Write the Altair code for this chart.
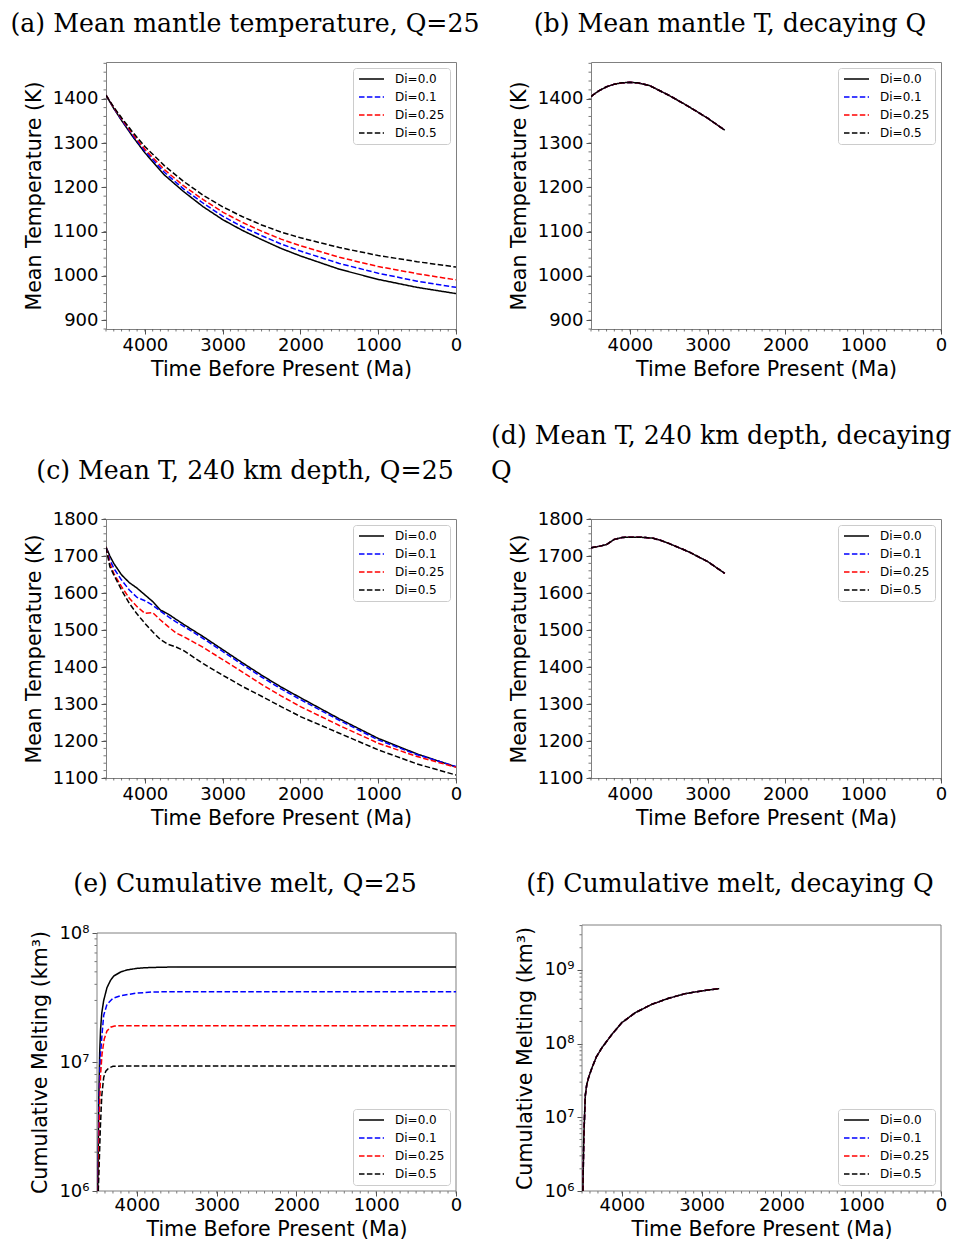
import altair as alt
import pandas as pd

SERIES = ["Di=0.0", "Di=0.1", "Di=0.25", "Di=0.5"]
COLORS = ["#000000", "#0000ff", "#ff0000", "#000000"]
DASHES = [[1, 0], [5.5, 2.4], [5.5, 2.4], [5.5, 2.4]]

# (a) Mean mantle temperature, Q=25
A_T = [4500, 4400, 4300, 4150, 4000, 3750, 3500, 3250, 3000, 2750, 2500, 2250, 2000, 1500, 1000, 500, 0]
A_00 = [1408, 1378, 1351, 1313, 1278, 1228, 1190, 1156, 1127, 1103, 1082, 1062, 1045, 1015, 992, 974, 960]
A_01 = [1408, 1379, 1353, 1316, 1282, 1234, 1196, 1164, 1135, 1111, 1091, 1072, 1056, 1028, 1006, 988, 974]
A_025 = [1408, 1380, 1355, 1319, 1286, 1240, 1203, 1172, 1144, 1121, 1101, 1083, 1068, 1042, 1021, 1005, 991]
A_05 = [1408, 1381, 1357, 1323, 1292, 1249, 1213, 1182, 1156, 1134, 1115, 1099, 1086, 1064, 1046, 1032, 1020]

# (b) Mean mantle T, decaying Q (all Di curves coincide)
B_T = [4500, 4400, 4300, 4200, 4100, 4000, 3900, 3750, 3500, 3250, 3000, 2780]
B_V = [1405, 1418, 1427, 1433, 1436, 1437, 1436, 1430, 1408, 1383, 1356, 1329]

# (c) Mean T, 240 km depth, Q=25
C_T = [4500, 4450, 4400, 4300, 4200, 4100, 4000, 3900, 3800, 3700, 3600, 3500, 3250, 3000, 2750, 2500, 2250, 2000, 1500, 1000, 500, 0]
C_00 = [1725, 1700, 1680, 1649, 1628, 1613, 1595, 1577, 1554, 1543, 1529, 1515, 1482, 1447, 1412, 1378, 1346, 1317, 1260, 1207, 1165, 1130]
C_01 = [1723, 1689, 1667, 1635, 1608, 1588, 1579, 1567, 1551, 1536, 1522, 1510, 1477, 1442, 1407, 1373, 1341, 1312, 1256, 1203, 1163, 1131]
C_025 = [1723, 1680, 1653, 1617, 1586, 1563, 1545, 1547, 1527, 1509, 1492, 1482, 1453, 1420, 1387, 1353, 1322, 1293, 1242, 1194, 1158, 1129]
C_05 = [1723, 1671, 1649, 1608, 1572, 1543, 1518, 1495, 1474, 1461, 1454, 1444, 1409, 1378, 1348, 1321, 1293, 1266, 1221, 1176, 1138, 1108]

# (d) Mean T, 240 km depth, decaying Q (all Di curves coincide)
D_T = [4500, 4400, 4300, 4250, 4200, 4100, 4000, 3900, 3800, 3700, 3600, 3500, 3250, 3000, 2780]
D_V = [1722, 1726, 1731, 1738, 1745, 1750, 1751, 1751, 1750, 1748, 1742, 1734, 1712, 1685, 1653]

# (e) Cumulative melt, Q=25
E_T00 = [4490, 4478, 4466, 4455, 4440, 4416, 4375, 4330, 4290, 4200, 4124, 4000, 3900, 3700, 3500, 0]
E_00 = [1e6, 5e6, 1.2e7, 1.8e7, 2.4e7, 3.0e7, 3.77e7, 4.3e7, 4.64e7, 5.0e7, 5.17e7, 5.32e7, 5.38e7, 5.43e7, 5.45e7, 5.45e7]
E_T01 = [4488, 4475, 4460, 4437, 4416, 4375, 4300, 4200, 4000, 3800, 3500, 0]
E_01 = [1e6, 4.5e6, 1.05e7, 1.64e7, 2.3e7, 2.8e7, 3.12e7, 3.27e7, 3.42e7, 3.49e7, 3.51e7, 3.51e7]
E_T025 = [4486, 4470, 4455, 4437, 4410, 4375, 4330, 4280, 4200, 0]
E_025 = [1e6, 4e6, 8e6, 1.15e7, 1.5e7, 1.74e7, 1.86e7, 1.9e7, 1.91e7, 1.91e7]
E_T05 = [4484, 4470, 4458, 4440, 4416, 4390, 4350, 4300, 4200, 0]
E_05 = [1e6, 1.8e6, 3.1e6, 5.5e6, 7.6e6, 8.5e6, 9.0e6, 9.25e6, 9.3e6, 9.3e6]

# (f) Cumulative melt, decaying Q (all Di curves coincide)
F_T = [4489, 4478, 4466, 4458, 4440, 4416, 4375, 4320, 4250, 4124, 4000, 3832, 3623, 3415, 3206, 2997, 2780]
F_V = [1e6, 5e6, 1.2e7, 2.0e7, 2.8e7, 3.5e7, 4.7e7, 6.6e7, 8.8e7, 1.34e8, 1.93e8, 2.63e8, 3.42e8, 4.12e8, 4.77e8, 5.19e8, 5.58e8]

X_TICKS = [4000, 3000, 2000, 1000, 0]
X_MINOR = list(range(4500, -1, -100))
TA_TICKS = [900, 1000, 1100, 1200, 1300, 1400]
TA_MINOR = list(range(880, 1481, 20))
TC_TICKS = [1100, 1200, 1300, 1400, 1500, 1600, 1700, 1800]
TC_MINOR = list(range(1100, 1801, 20))
E_TICKS = [1e6, 1e7, 1e8]
F_TICKS = [1e6, 1e7, 1e8, 1e9]
LOG_MINOR_E = [m * 10 ** p for p in (6, 7) for m in range(2, 10)]
LOG_MINOR_F = [m * 10 ** p for p in (6, 7, 8, 9) for m in range(2, 10) if m * 10 ** p <= 4.0e9]

TICK_GREY = "#555555"
FRAME_GREY = "#808080"


def frame(series_list):
    rows = []
    for name, ts, vs in series_list:
        for t, v in zip(ts, vs):
            rows.append({"t": t, "v": v, "s": name})
    return pd.DataFrame(rows)


def panel(df, title, ydom, yticks, yminor, ytitle, w, h, log=False,
          legend_orient="top-right", shift=0, yrange=None, own_frame=False,
          xlabel_pad=2, xtitle_pad=5):
    xr = [-shift, w] if shift else alt.Undefined
    xs = alt.Scale(domain=[0, 4500], reverse=True, nice=False, zero=False, range=xr)
    yr = yrange if yrange else alt.Undefined
    if log:
        ys = alt.Scale(type="log", domain=ydom, nice=False, range=yr)
        lbl = ("datum.value > 5e8 ? '10\u2079' : datum.value > 5e7 ? '10\u2078' : "
               "datum.value > 5e6 ? '10\u2077' : '10\u2076'")
        yaxis = alt.Axis(values=yticks, title=ytitle, labelExpr=lbl, offset=shift)
    else:
        ys = alt.Scale(domain=ydom, nice=False, zero=False, range=yr)
        yaxis = alt.Axis(values=yticks, title=ytitle, format="d", offset=shift)
    xaxis = alt.Axis(values=X_TICKS, title="Time Before Present (Ma)", format="d",
                     labelPadding=xlabel_pad, titlePadding=xtitle_pad)
    leg = alt.Legend(title=None, orient=legend_orient)
    lines = alt.Chart(df).mark_line(strokeWidth=1.5, clip=not own_frame).encode(
        x=alt.X("t:Q", scale=xs, axis=xaxis),
        y=alt.Y("v:Q", scale=ys, axis=yaxis),
        color=alt.Color("s:N", scale=alt.Scale(domain=SERIES, range=COLORS), legend=leg),
        strokeDash=alt.StrokeDash("s:N", scale=alt.Scale(domain=SERIES, range=DASHES), legend=leg),
    )
    xm = alt.Chart(pd.DataFrame({"m": X_MINOR})).mark_rule(
        color=TICK_GREY, strokeWidth=0.8, y2Offset=2.5).encode(
        x=alt.X("m:Q", scale=xs, axis=xaxis),
        y=alt.YDatum(ydom[0], scale=ys, axis=yaxis),
        y2=alt.Y2Datum(ydom[0]),
    )
    ym = alt.Chart(pd.DataFrame({"m": yminor})).mark_rule(
        color=TICK_GREY, strokeWidth=0.8, x2Offset=-2.5).encode(
        y=alt.Y("m:Q", scale=ys, axis=yaxis),
        x=alt.XDatum(4500, scale=xs, axis=xaxis),
        x2=alt.X2Datum(4500),
    )
    layers = [ym, xm]
    if own_frame:
        fr = alt.Chart(alt.Data(values=[{"k": 0}])).mark_rect(
            filled=False, stroke=FRAME_GREY, strokeWidth=1).encode(
            x=alt.XDatum(4500, scale=xs, axis=xaxis),
            x2=alt.X2Datum(0),
            y=alt.YDatum(ydom[0], scale=ys, axis=yaxis),
            y2=alt.Y2Datum(ydom[1]),
        )
        layers.append(fr)
    layers.append(lines)
    ch = alt.layer(*layers).properties(width=w, height=h, title=title)
    if own_frame:
        ch = ch.properties(view=alt.ViewBackground(strokeOpacity=0))
    return ch


def ttl(text, dx, offset, anchor="middle"):
    return alt.TitleParams(text=text, anchor=anchor, frame="group", dx=dx, offset=offset,
                           font="DejaVu Serif", fontSize=25.2, fontWeight="normal",
                           color="black", baseline="alphabetic", limit=2000, lineHeight=35)


def spacer(w, h):
    return alt.Chart(alt.Data(values=[{"a": 0}])).mark_point(opacity=0).encode(
        x=alt.value(0), y=alt.value(0)
    ).properties(width=w, height=h, view=alt.ViewBackground(strokeOpacity=0))


df_a = frame([(SERIES[0], A_T, A_00), (SERIES[1], A_T, A_01), (SERIES[2], A_T, A_025), (SERIES[3], A_T, A_05)])
df_b = frame([(s, B_T, B_V) for s in SERIES])
df_c = frame([(SERIES[0], C_T, C_00), (SERIES[1], C_T, C_01), (SERIES[2], C_T, C_025), (SERIES[3], C_T, C_05)])
df_d = frame([(s, D_T, D_V) for s in SERIES])
df_e = frame([(SERIES[0], E_T00, E_00), (SERIES[1], E_T01, E_01), (SERIES[2], E_T025, E_025), (SERIES[3], E_T05, E_05)])
df_f = frame([(s, F_T, F_V) for s in SERIES])

YT = "Mean Temperature (K)"
YM = "Cumulative Melting (km\u00b3)"

pa = panel(df_a, ttl("(a) Mean mantle temperature, Q=25", -36, 5), [880, 1483], TA_TICKS, TA_MINOR, YT, 350, 267)
pb = panel(df_b, ttl("(b) Mean mantle T, decaying Q", -36, 5), [880, 1483], TA_TICKS, TA_MINOR, YT, 350, 267)
pc = panel(df_c, ttl("(c) Mean T, 240 km depth, Q=25", -36, 6), [1100, 1800], TC_TICKS, TC_MINOR, YT, 350, 259)
pd_ = panel(df_d, ttl(["(d) Mean T, 240 km depth, decaying", "Q"], -100, 6, anchor="start"),
            [1100, 1800], TC_TICKS, TC_MINOR, YT, 350, 259)
pe = panel(df_e, ttl("(e) Cumulative melt, Q=25", -36, 7), [1e6, 1e8], E_TICKS, LOG_MINOR_E, YM, 350, 266,
           log=True, legend_orient="bottom-right", shift=9, yrange=[266, 8], own_frame=True,
           xlabel_pad=0, xtitle_pad=5)
pf = panel(df_f, ttl("(f) Cumulative melt, decaying Q", -36, 7), [1e6, 4.07e9], F_TICKS, LOG_MINOR_F, YM, 350, 266,
           log=True, legend_orient="bottom-right", shift=9, own_frame=True,
           xlabel_pad=0, xtitle_pad=5)

cells = [
    pa, spacer(135, 267), pb,
    spacer(350, 190), spacer(135, 190), spacer(350, 190),
    pc, spacer(135, 259), pd_,
    spacer(350, 147), spacer(135, 147), spacer(350, 147),
    pe, spacer(135, 266), pf,
]

chart = alt.ConcatChart(
    concat=cells, columns=3, spacing=0, bounds="flush",
).resolve_scale(color="independent", strokeDash="independent").properties(
    padding={"left": 2, "top": 3, "right": 0, "bottom": 0}
).configure_view(stroke=FRAME_GREY, strokeWidth=1).configure_axis(
    labelFont="DejaVu Sans", labelFontSize=18, labelColor="black",
    titleFont="DejaVu Sans", titleFontSize=20.6, titleFontWeight="normal", titleColor="black",
    tickColor=TICK_GREY, tickSize=5, tickWidth=1, domain=False, grid=False,
    labelFlush=False, labelOverlap=False, labelPadding=3,
).configure_axisY(titlePadding=8).configure_legend(
    labelFont="DejaVu Sans", labelFontSize=12, labelColor="black",
    symbolType="stroke", symbolSize=625, symbolStrokeWidth=1.5, labelOffset=10,
    rowPadding=6, padding=5, strokeColor="#cccccc", fillColor="white",
    cornerRadius=3, offset=6, clipHeight=12,
)

chart.save("out.html", embed_options={"renderer": "svg", "actions": False})
